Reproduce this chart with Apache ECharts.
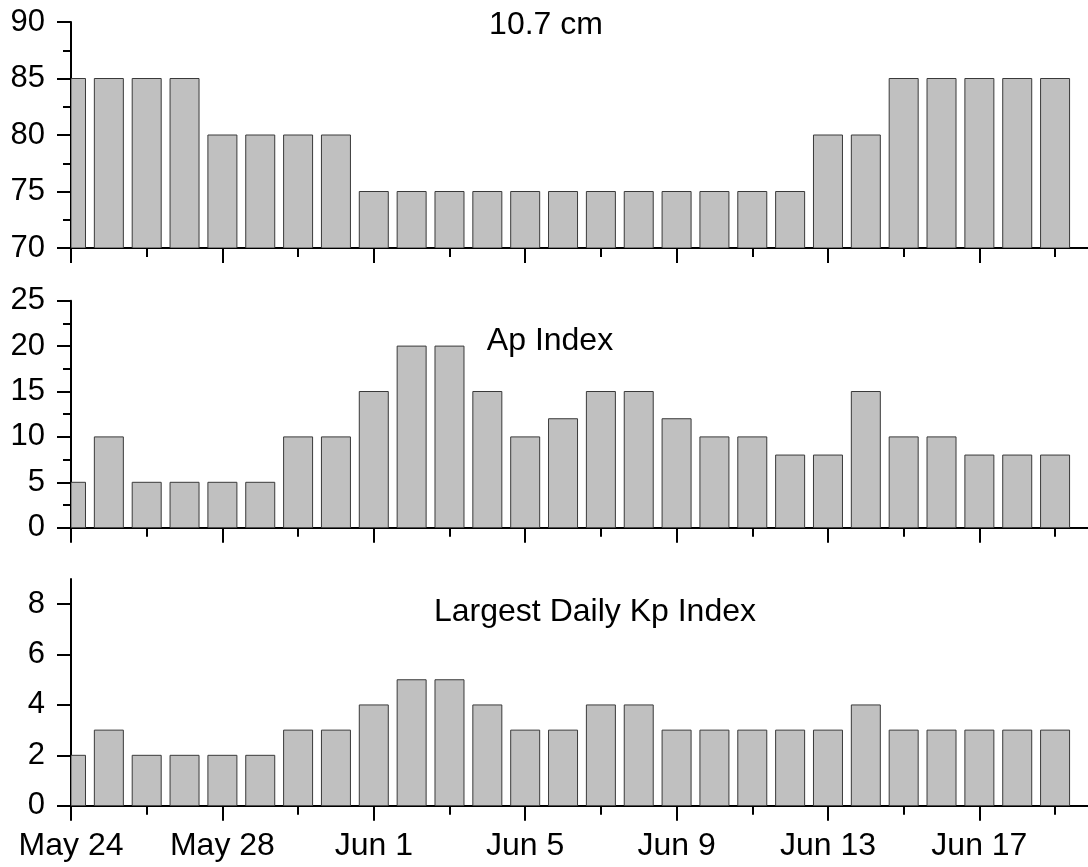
<!DOCTYPE html>
<html>
<head>
<meta charset="utf-8">
<script src="https://cdn.jsdelivr.net/npm/echarts@6/dist/echarts.min.js"></script>
<style>html,body{margin:0;padding:0;background:#fff;}#c{width:1088px;height:867px;}</style>
</head>
<body>
<div id="c"></div>
<script>
var dayLabels = ['May 24','May 25','May 26','May 27','May 28','May 29','May 30','May 31',
  'Jun 1','Jun 2','Jun 3','Jun 4','Jun 5','Jun 6','Jun 7','Jun 8','Jun 9','Jun 10',
  'Jun 11','Jun 12','Jun 13','Jun 14','Jun 15','Jun 16','Jun 17','Jun 18','Jun 19'];
var flux107 = [85,85,85,85,80,80,80,80,75,75,75,75,75,75,75,75,75,75,75,75,80,80,85,85,85,85,85];
var apIndex = [5,10,5,5,5,5,10,10,15,20,20,15,10,12,15,15,12,10,10,8,8,15,10,10,8,8,8];
var kpIndex = [2,3,2,2,2,2,3,3,4,5,5,4,3,3,4,4,3,3,3,3,3,4,3,3,3,3,3];
var panelTitles = ['10.7 cm','Ap Index','Largest Daily Kp Index'];
var xMajorTicks = [0,4,8,12,16,20,24];
var xMinorTicks = [2,6,10,14,18,22,26];
var yTicksTop = [70,75,80,85,90];
var yTicksMid = [0,5,10,15,20,25];
var yTicksBot = [0,2,4,6,8];
var yMins = [70,0,0];

function toPairs(arr){ return arr.map(function(v,i){ return [i,v]; }); }

var FONT = 'Liberation Sans, Arial, sans-serif';
var X_MAX = 26.87;
var grids = [
  {left:71, top:22, right:0, height:226},
  {left:71, top:300.7, right:0, height:227},
  {left:71, top:579, right:0, height:226.7}
];
var axisLineStyle = {color:'#000', width:2};
function xAxisMajor(idx, showLabel){
  return {
    type:'value', gridIndex:idx, min:0, max:X_MAX, position:'bottom',
    axisLine:{show:true, onZero:false, lineStyle:axisLineStyle},
    axisTick:{show:true, length:15, customValues:xMajorTicks, lineStyle:axisLineStyle},
    splitLine:{show:false},
    axisLabel:{show:showLabel, margin:24, color:'#000', fontFamily:FONT, fontSize:32,
      customValues:xMajorTicks,
      formatter:function(v){ return dayLabels[v] !== undefined ? dayLabels[v] : ''; }}
  };
}
function xAxisMinor(idx){
  return {
    type:'value', gridIndex:idx, min:0, max:X_MAX, position:'bottom', offset:0,
    axisLine:{show:false, onZero:false},
    axisTick:{show:true, length:9, customValues:xMinorTicks, lineStyle:axisLineStyle},
    splitLine:{show:false},
    axisLabel:{show:false}
  };
}
function yAxis(idx, min, max, ticks, minor){
  return {
    type:'value', gridIndex:idx, min:min, max:max, interval:ticks[1]-ticks[0],
    axisLine:{show:true, lineStyle:axisLineStyle},
    axisTick:{show:true, length:14, customValues:ticks, lineStyle:axisLineStyle},
    minorTick:{show:minor, splitNumber:2, length:8, lineStyle:axisLineStyle},
    splitLine:{show:false}, minorSplitLine:{show:false},
    axisLabel:{show:true, margin:26, color:'#000', fontFamily:FONT, fontSize:31, customValues:ticks}
  };
}
function barSeries(idx, data){
  var base = yMins[idx];
  return {
    type:'custom', xAxisIndex:idx*2, yAxisIndex:idx, data:toPairs(data), clip:true,
    silent:true, animation:false, z:2,
    renderItem:function(params, api){
      var x = api.value(0), y = api.value(1);
      var p0 = api.coord([x, base]);
      var p1 = api.coord([x, y]);
      var w = api.size([0.766, 0])[0];
      var rect = echarts.graphic.clipRectByRect(
        {x:p1[0]-w/2, y:p1[1], width:w, height:p0[1]-p1[1]},
        {x:params.coordSys.x, y:params.coordSys.y - 2, width:params.coordSys.width, height:params.coordSys.height + 2}
      );
      if (!rect) return null;
      return {type:'rect', shape:rect, style:{fill:'#c0c0c0', stroke:'#3a3a3a', lineWidth:1}};
    }
  };
}
var chart = echarts.init(document.getElementById('c'), null, {renderer:'canvas'});
chart.setOption({
  animation:false,
  backgroundColor:'#fff',
  grid:grids,
  xAxis:[xAxisMajor(0,false), xAxisMinor(0), xAxisMajor(1,false), xAxisMinor(1), xAxisMajor(2,true), xAxisMinor(2)],
  yAxis:[yAxis(0,70,90,yTicksTop,true), yAxis(1,0,25,yTicksMid,true), yAxis(2,0,9,yTicksBot,false)],
  series:[barSeries(0,flux107), barSeries(1,apIndex), barSeries(2,kpIndex)],
  graphic:[
    {type:'text', x:546, y:25, style:{text:panelTitles[0], fill:'#000', font:'32px '+FONT, textAlign:'center', textVerticalAlign:'middle'}},
    {type:'text', x:550, y:341, style:{text:panelTitles[1], fill:'#000', font:'32px '+FONT, textAlign:'center', textVerticalAlign:'middle'}},
    {type:'text', x:595, y:612, style:{text:panelTitles[2], fill:'#000', font:'32px '+FONT, textAlign:'center', textVerticalAlign:'middle'}}
  ]
});
</script>
</body>
</html>
